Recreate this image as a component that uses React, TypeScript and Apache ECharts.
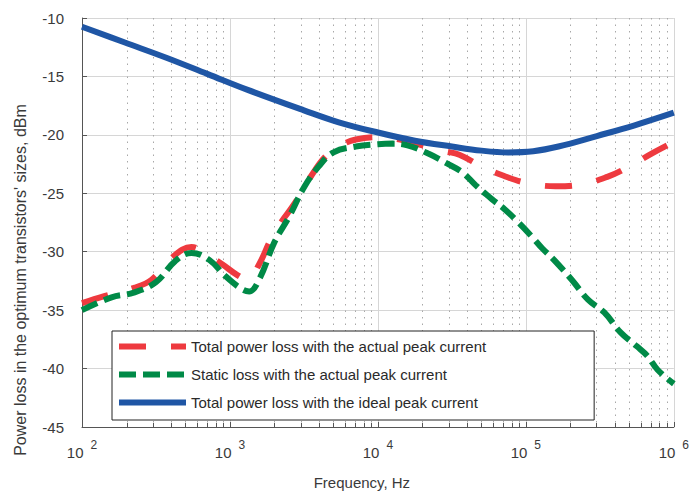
import React, { useEffect, useRef } from "react";
import * as echarts from "echarts";

// x values are log10(frequency in Hz)
const redLogF = [2.0, 2.15, 2.35, 2.47, 2.6, 2.74, 2.85, 2.95, 3.05, 3.12, 3.2, 3.27, 3.35, 3.43, 3.55, 3.65, 3.75, 3.85, 4.0, 4.15, 4.3, 4.45, 4.55, 4.7, 4.85, 5.0, 5.2, 5.35, 5.55, 5.7, 5.85, 6.0];
const redLoss = [-34.4, -33.8, -33.1, -32.4, -30.6, -29.6, -30.3, -31.1, -32.0, -32.4, -31.0, -29.1, -27.4, -26.0, -23.5, -21.8, -20.9, -20.4, -20.2, -20.4, -20.9, -21.4, -21.7, -22.7, -23.5, -24.1, -24.4, -24.3, -23.6, -22.7, -21.6, -20.6];

const greenLogF = [2.0, 2.2, 2.35, 2.5, 2.63, 2.74, 2.86, 2.97, 3.08, 3.13, 3.2, 3.3, 3.4, 3.5, 3.6, 3.7, 3.85, 4.0, 4.1, 4.2, 4.34, 4.46, 4.57, 4.66, 4.77, 4.86, 4.95, 5.04, 5.11, 5.19, 5.31, 5.42, 5.53, 5.64, 5.75, 5.82, 5.89, 6.0];
const greenLoss = [-35.0, -33.9, -33.5, -32.6, -30.8, -30.1, -30.7, -32.1, -33.2, -33.4, -32.3, -29.2, -27.0, -24.5, -22.7, -21.5, -21.0, -20.8, -20.75, -20.9, -21.6, -22.4, -23.2, -24.3, -25.5, -26.4, -27.5, -28.7, -29.7, -30.7, -32.4, -34.1, -35.2, -36.9, -38.1, -38.9, -40.1, -41.3];

const blueLogF = [2.0, 2.29, 2.57, 2.85, 3.12, 3.5, 3.73, 4.0, 4.25, 4.5, 4.7, 4.88, 5.05, 5.22, 5.48, 5.73, 6.0];
const blueLoss = [-10.75, -12.1, -13.4, -14.8, -16.15, -17.9, -18.9, -19.8, -20.5, -21.0, -21.35, -21.5, -21.4, -21.0, -20.1, -19.2, -18.1];

const seriesNames = [
  "Total power loss with the actual peak current",
  "Static loss with the actual peak current",
  "Total power loss with the ideal peak current",
];
const seriesColors = ["#ee3a3f", "#008a47", "#1f56a5"];
const seriesDash: any[] = [[27, 25], [17, 7], "solid"];

const decadeExps = [2, 3, 4, 5, 6];
const minorMultipliers = [2, 3, 4, 5, 6, 7, 8, 9];

const yMin = -45;
const yMax = -10;

const FONT = "'Liberation Sans', Arial, Helvetica, sans-serif";
const TXT = "#3a3a3a";

function pairs(xs: number[], ys: number[]) {
  return xs.map((x, i) => [x, ys[i]]);
}

export default function App() {
  const ref = useRef<HTMLDivElement>(null);
  useEffect(() => {
    if (!ref.current) return;
    const chart = echarts.init(ref.current, null, { renderer: "svg" });
    const minorData: number[][] = [];
    for (let d = 0; d < decadeExps.length - 1; d++) {
      for (const m of minorMultipliers) {
        minorData.push([decadeExps[d] + Math.log10(m), yMin]);
      }
    }
    const lineSeries = [
      pairs(redLogF, redLoss),
      pairs(greenLogF, greenLoss),
      pairs(blueLogF, blueLoss),
    ].map((data, i) => ({
      name: seriesNames[i],
      type: "line",
      data,
      smooth: 0.4,
      symbol: "none",
      lineStyle: { color: seriesColors[i], width: 6, type: seriesDash[i], cap: "butt" },
      itemStyle: { color: seriesColors[i] },
    }));
    const option: any = {
      animation: false,
      grid: { left: 82, top: 18, right: 12, bottom: 71, containLabel: false },
      xAxis: {
        type: "value",
        min: 2,
        max: 6,
        interval: 1,
        name: "Frequency, Hz",
        nameLocation: "middle",
        nameGap: 48,
        nameTextStyle: { fontFamily: FONT, fontSize: 15, color: TXT, padding: [0, 32, 0, 0] },
        axisLine: { show: true, onZero: false, lineStyle: { color: "#555", width: 1 } },
        axisTick: { show: true, inside: true, length: 5, lineStyle: { color: "#555" } },
        splitLine: { show: true, lineStyle: { color: "#d6d6d6", width: 1 } },
        axisLabel: {
          margin: 12,
          formatter: (v: number) => `{a|10}{b|${v}}`,
          rich: {
            a: { fontFamily: FONT, fontSize: 15, color: TXT, lineHeight: 26 },
            b: { fontFamily: FONT, fontSize: 12, color: TXT, verticalAlign: "top", lineHeight: 12, padding: [0, 0, 6, 7] },
          },
        },
      },
      yAxis: {
        type: "value",
        min: yMin,
        max: yMax,
        interval: 5,
        axisLine: { show: true, onZero: false, lineStyle: { color: "#555", width: 1 } },
        axisTick: { show: true, inside: true, length: 5, lineStyle: { color: "#555" } },
        splitLine: { show: true, lineStyle: { color: "#d6d6d6", width: 1 } },
        axisLabel: { margin: 18, fontFamily: FONT, fontSize: 15, color: TXT },
      },
      legend: {
        orient: "vertical",
        left: 112,
        top: 331,
        padding: [8, 108, 10, 4],
        itemGap: 13,
        itemWidth: 67,
        itemHeight: 14,
        borderColor: "#222",
        borderWidth: 1,
        borderRadius: 0,
        backgroundColor: "#fff",
        itemStyle: { opacity: 0 },
        lineStyle: { width: 6, cap: "butt" },
        textStyle: { fontFamily: FONT, fontSize: 15, color: "#2a2a2a" },
        data: seriesNames.map((name, i) => ({
          name,
          itemStyle: { opacity: 0 },
          lineStyle: { width: 6, color: seriesColors[i], type: seriesDash[i], cap: "butt" },
        })),
      },
      graphic: [
        {
          type: "text",
          x: 20,
          y: 280,
          rotation: Math.PI / 2,
          style: {
            text: "Power loss in the optimum transistors' sizes, dBm",
            fontFamily: FONT,
            fontSize: 16,
            fill: TXT,
            align: "center",
            verticalAlign: "middle",
          },
        },
      ],
      series: [
        {
          type: "custom",
          silent: true,
          z: 1,
          data: minorData,
          encode: { x: 0, y: 1 },
          renderItem: (params: any, api: any) => {
            const x = api.value(0);
            const top = api.coord([x, yMax]);
            const bot = api.coord([x, yMin]);
            const px = Math.round(top[0]) + 0.5;
            return {
              type: "group",
              children: [
                {
                  type: "line",
                  shape: { x1: px, y1: top[1], x2: px, y2: bot[1] },
                  style: { stroke: "#a8a8a8", lineWidth: 1, lineDash: [1.5, 5] },
                },
                {
                  type: "line",
                  shape: { x1: px, y1: bot[1], x2: px, y2: bot[1] - 4 },
                  style: { stroke: "#555", lineWidth: 1 },
                },
              ],
            };
          },
        },
        ...lineSeries,
      ],
    };
    chart.setOption(option);
    return () => chart.dispose();
  }, []);
  return <div ref={ref} style={{ width: 692, height: 498, position: "absolute", left: 0, top: 0 }} />;
}
